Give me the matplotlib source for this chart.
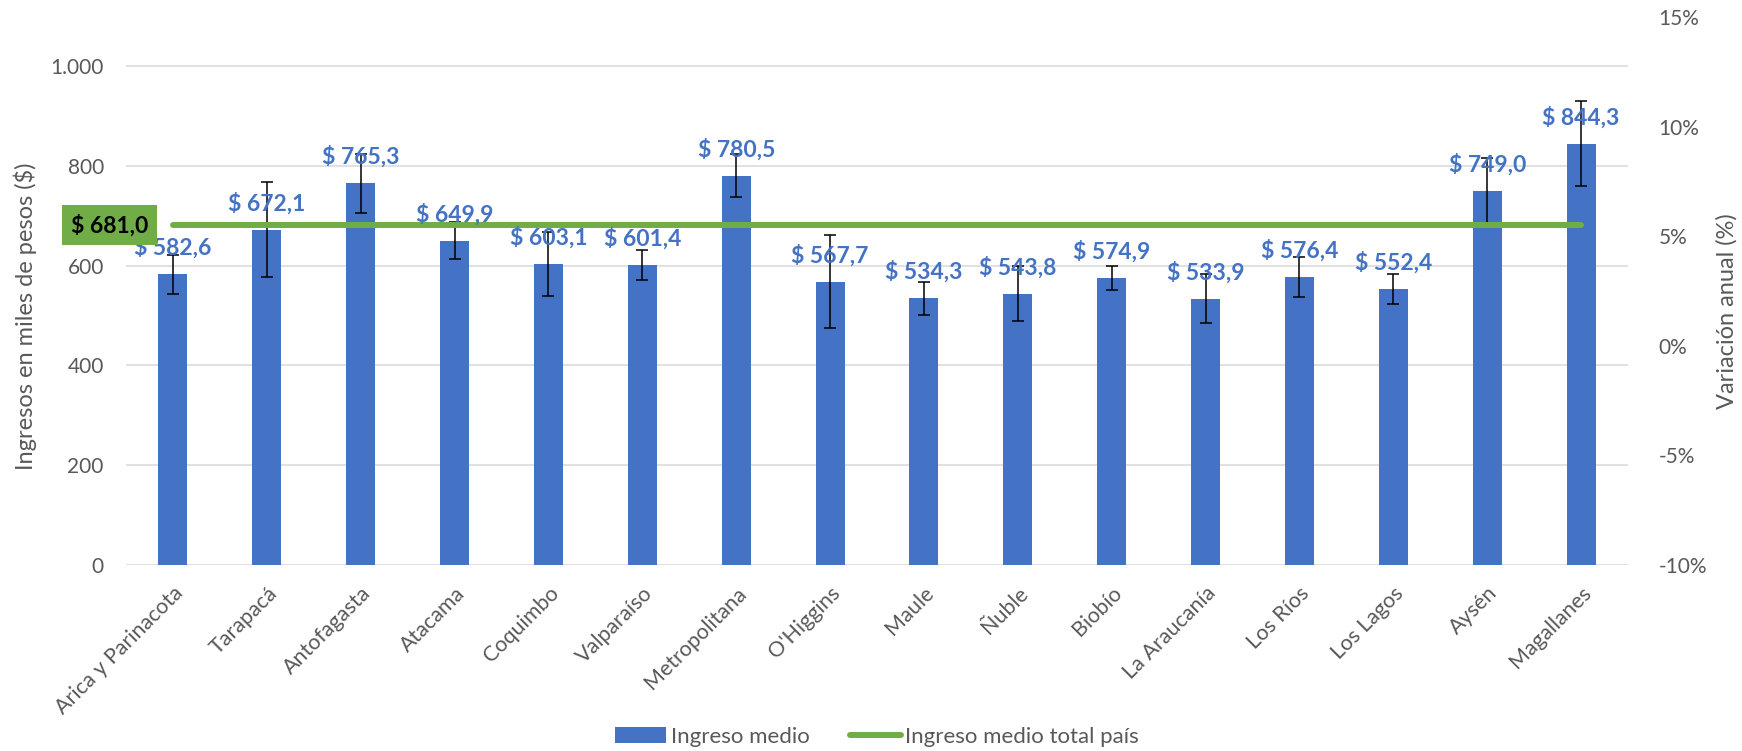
import numpy as np
import matplotlib
matplotlib.use("Agg")
import matplotlib.pyplot as plt
from matplotlib.patches import Patch
from matplotlib.lines import Line2D

plt.rcParams['font.family'] = ['Lato', 'DejaVu Sans']

regiones = ["Arica y Parinacota", "Tarapacá", "Antofagasta", "Atacama", "Coquimbo",
            "Valparaíso", "Metropolitana", "O'Higgins", "Maule", "Ñuble", "Biobío",
            "La Araucanía", "Los Ríos", "Los Lagos", "Aysén", "Magallanes"]
ingreso_medio = [582.6, 672.1, 765.3, 649.9, 603.1, 601.4, 780.5, 567.7,
                 534.3, 543.8, 574.9, 533.9, 576.4, 552.4, 749.0, 844.3]
error = [39, 95, 59, 37, 64, 30, 43, 93, 33, 55, 24, 49, 40, 30, 67, 85]
ingreso_pais = 681.0

left_ticks = [0, 200, 400, 600, 800, 1000]
left_labels = ["0", "200", "400", "600", "800", "1.000"]
right_ticks = [-10, -5, 0, 5, 10, 15]

blue = "#4472C4"
green = "#70AD47"
grey = "#595959"

fig = plt.figure(figsize=(17.42, 7.51), dpi=100)
ax = fig.add_axes([126/1742, 1-565/751, (1628-126)/1742, (565-17)/751])

x = np.arange(len(regiones))
ax.bar(x, ingreso_medio, width=0.31, color=blue, zorder=2)
ax.errorbar(x, ingreso_medio, yerr=error, fmt="none", ecolor="black",
            elinewidth=1.1, capsize=4.3, capthick=1.1, zorder=3)
ax.plot(x, [ingreso_pais]*len(x), color=green, linewidth=4.3,
        solid_capstyle="round", zorder=4)

for xi, v in zip(x, ingreso_medio):
    ax.annotate("$ " + f"{v:.1f}".replace(".", ","), (xi, v), xytext=(0, 19),
                textcoords="offset points", ha="center", va="center",
                color=blue, fontsize=16.5, fontweight="bold", zorder=5)

# etiqueta del promedio nacional, a la izquierda del eje
ax.text(-0.676, ingreso_pais, "$ " + f"{ingreso_pais:.1f}".replace(".", ","),
        ha="center", va="center", fontsize=16.5, fontweight="bold", color="black",
        bbox=dict(boxstyle="square,pad=0.4", fc=green, ec="none"),
        clip_on=False, zorder=6)

ax.set_xlim(-0.5, len(x) - 0.5)
ax.set_ylim(0, (565-17)/0.499)
ax.set_yticks(left_ticks)
ax.set_yticklabels(left_labels)
ax.grid(axis="y", color="#D9D9D9", linewidth=1.1, zorder=0)
ax.set_axisbelow(True)
for s in ax.spines.values():
    s.set_visible(False)
ax.tick_params(axis="both", length=0, colors=grey)
ax.tick_params(axis="y", pad=16, labelsize=15)
ax.set_xticks(x)
ax.set_xticklabels(regiones, rotation=45, ha="right", rotation_mode="anchor")
ax.tick_params(axis="x", pad=13, labelsize=15.5)

ax2 = ax.twinx()
ax2.set_ylim(-10, 15)
ax2.set_yticks(right_ticks)
ax2.set_yticklabels([f"{t}%" for t in right_ticks])
for s in ax2.spines.values():
    s.set_visible(False)
ax2.tick_params(axis="y", length=0, labelsize=15, colors=grey, pad=22)
ax2.patch.set_visible(False)

fig.text(25/1742, 1-316/751, "Ingresos en miles de pesos ($)", rotation=90,
         ha="center", va="center", fontsize=17, color=grey)
fig.text(1727/1742, 1-311/751, "Variación anual (%)", rotation=90,
         ha="center", va="center", fontsize=17, color=grey)

handles = [Patch(facecolor=blue), Line2D([0], [0], color=green, linewidth=4.3,
                                          solid_capstyle="round")]
fig.legend(handles, ["Ingreso medio", "Ingreso medio total país"],
           loc="center", bbox_to_anchor=(877/1742, 1-737/751), ncol=2,
           frameon=False, fontsize=16, labelcolor=grey, handlelength=2.3,
           handletextpad=0.2, columnspacing=1.8)

fig.savefig("out.png", dpi=100)
